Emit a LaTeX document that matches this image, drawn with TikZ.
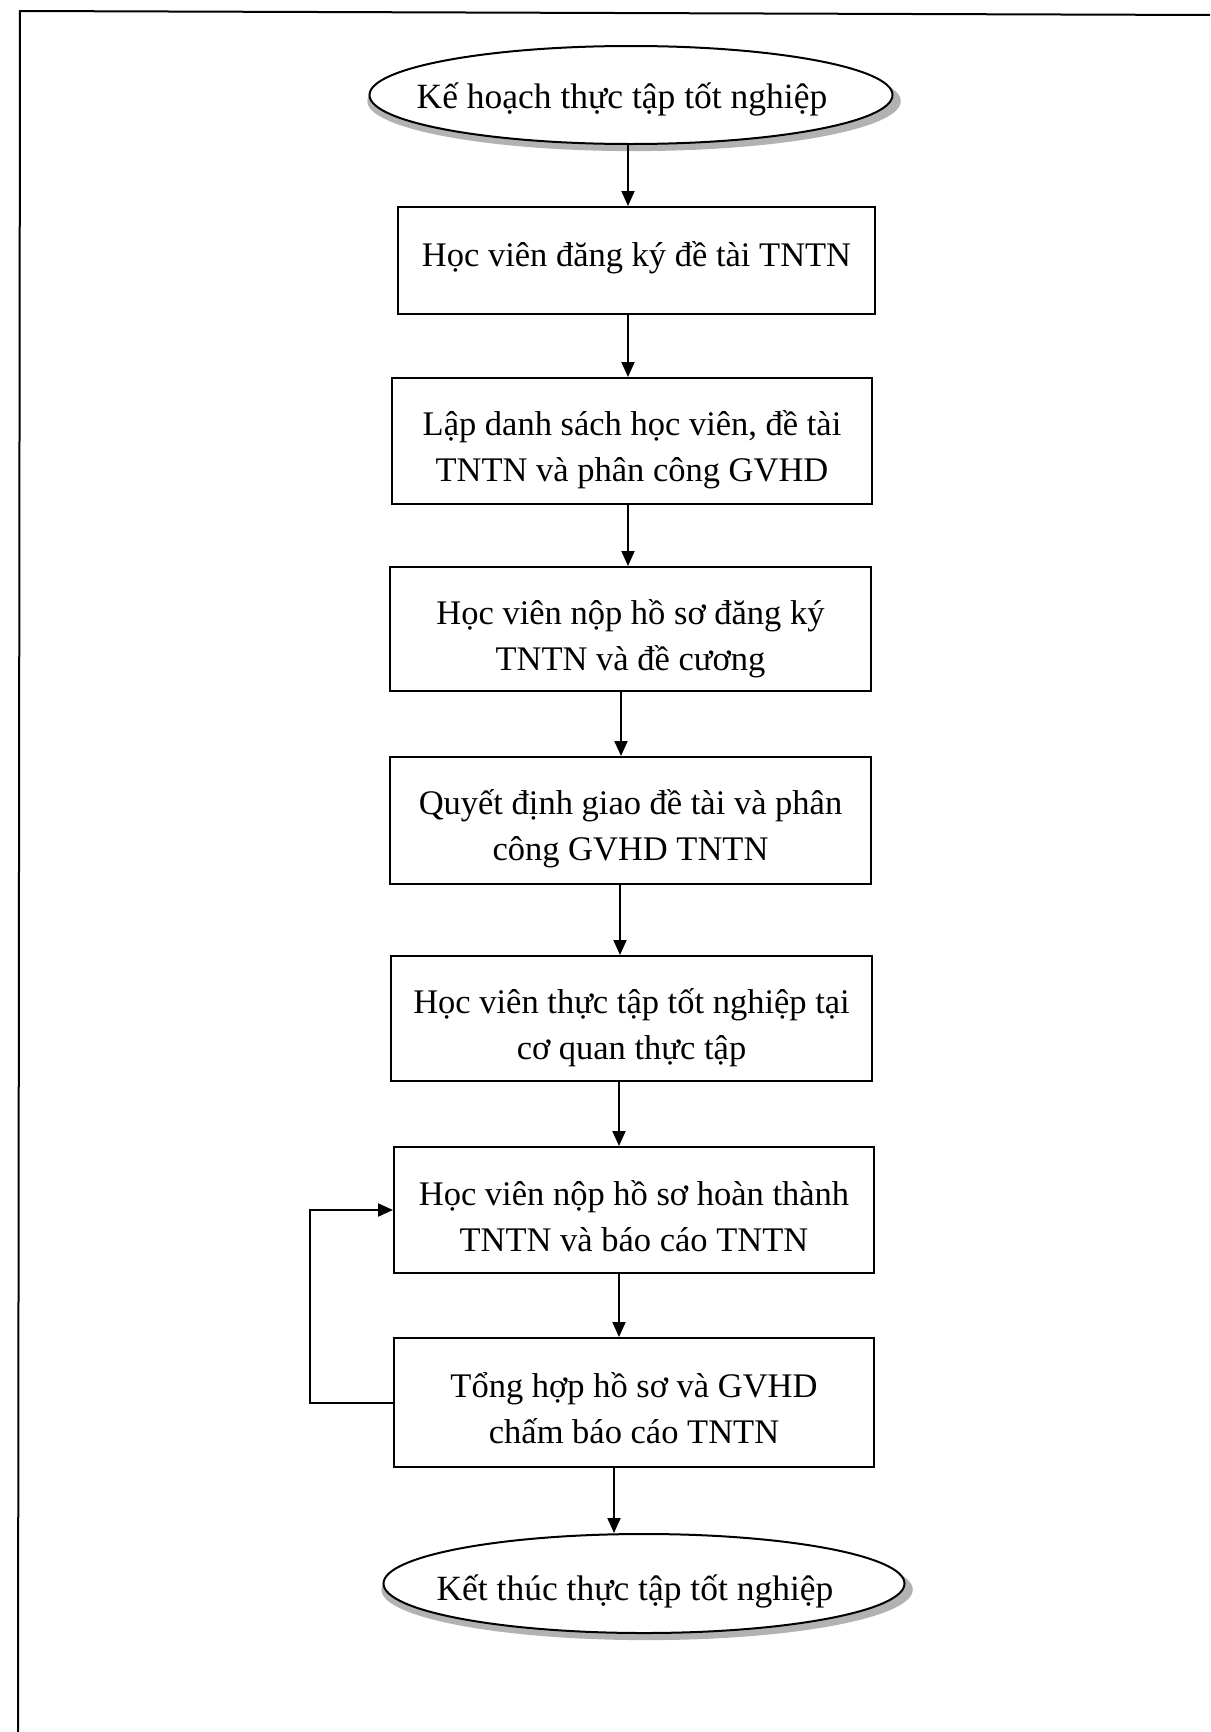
\documentclass[tikz,border=0pt]{standalone}
\usepackage{fontspec}
\setmainfont{Liberation Serif}
\usetikzlibrary{arrows.meta,shapes.geometric,shadows}
\begin{document}
\begin{tikzpicture}[x=1pt,y=-1pt,
  txt/.style={font=\fontsize{34.5}{46}\selectfont, align=center, inner sep=0pt},
  etxt/.style={font=\fontsize{35.5}{46}\selectfont, inner sep=0pt},
  stepbox/.style={draw, line width=2pt, inner sep=0pt},
  term/.style={ellipse, draw, line width=2pt, fill=white, inner sep=0pt,
    general shadow={fill=black!30, shadow scale=1.02, shadow xshift=3pt, shadow yshift=-6pt}},
  arr/.style={line width=2pt, -{Triangle[length=15pt,width=13pt]}}]
\useasboundingbox (0,0) rectangle (1210,1732);
\fill[white] (0,0) rectangle (1210,1732);
% page frame
\draw[line width=2pt] (1210,15) -- (20,11) -- (18,1732);

\node[term, minimum width=523pt, minimum height=98pt] (e1) at (631,95) {};
\node[etxt] (t1) at ([xshift=-9pt,yshift=-4pt]e1.center) {Kế hoạch thực tập tốt nghiệp};

\node[stepbox, minimum width=477pt, minimum height=107pt] (b1) at (636.5,260.5) {};
\node[stepbox, minimum width=480pt, minimum height=126pt] (b2) at (632,441) {};
\node[stepbox, minimum width=481pt, minimum height=124pt] (b3) at (630.5,629) {};
\node[stepbox, minimum width=481pt, minimum height=127pt] (b4) at (630.5,820.5) {};
\node[stepbox, minimum width=481pt, minimum height=125pt] (b5) at (631.5,1018.5) {};
\node[stepbox, minimum width=480pt, minimum height=126pt] (b6) at (634,1210) {};
\node[stepbox, minimum width=480pt, minimum height=129pt] (b7) at (634,1402.5) {};

\node[txt] (l1) at ([yshift=3pt]b1.center) {Học viên đăng ký đề tài TNTN};
\node[txt] (l2) at ([yshift=-9pt]b2.center) {Lập danh sách học viên, đề tài\\TNTN và phân công GVHD};
\node[txt] (l3) at ([yshift=-10pt]b3.center) {Học viên nộp hồ sơ đăng ký\\TNTN và đề cương};
\node[txt] (l4) at ([yshift=-8pt]b4.center) {Quyết định giao đề tài và phân\\công GVHD TNTN};
\node[txt] (l5) at ([yshift=-9pt]b5.center) {Học viên thực tập tốt nghiệp tại\\cơ quan thực tập};
\node[txt] (l6) at ([yshift=-6pt]b6.center) {Học viên nộp hồ sơ hoàn thành\\TNTN và báo cáo TNTN};
\node[txt] (l7) at ([yshift=-6pt]b7.center) {Tổng hợp hồ sơ và GVHD\\chấm báo cáo TNTN};

\node[term, minimum width=521pt, minimum height=99pt] (e2) at (644,1583.5) {};
\node[etxt] (t2) at ([xshift=-9pt,yshift=-8pt]e2.center) {Kết thúc thực tập tốt nghiệp};

\draw[arr] ([xshift=-3pt]e1.south) -- ([xshift=-3pt]e1.south |- b1.north);
\draw[arr] ([xshift=-8.5pt]b1.south) -- ([xshift=-8.5pt]b1.south |- b2.north);
\draw[arr] ([xshift=-4pt]b2.south) -- ([xshift=-4pt]b2.south |- b3.north);
\draw[arr] ([xshift=-9.5pt]b3.south) -- ([xshift=-9.5pt]b3.south |- b4.north);
\draw[arr] ([xshift=-10.5pt]b4.south) -- ([xshift=-10.5pt]b4.south |- b5.north);
\draw[arr] ([xshift=-12.5pt]b5.south) -- ([xshift=-12.5pt]b5.south |- b6.north);
\draw[arr] ([xshift=-15pt]b6.south) -- ([xshift=-15pt]b6.south |- b7.north);
\draw[arr] ([xshift=-20pt]b7.south) -- ([xshift=-20pt]b7.south |- e2.north);

\coordinate (lp) at (310,0);
\draw[arr] (b7.west) -- (b7.west -| lp) |- (b6.west);
\end{tikzpicture}
\end{document}
